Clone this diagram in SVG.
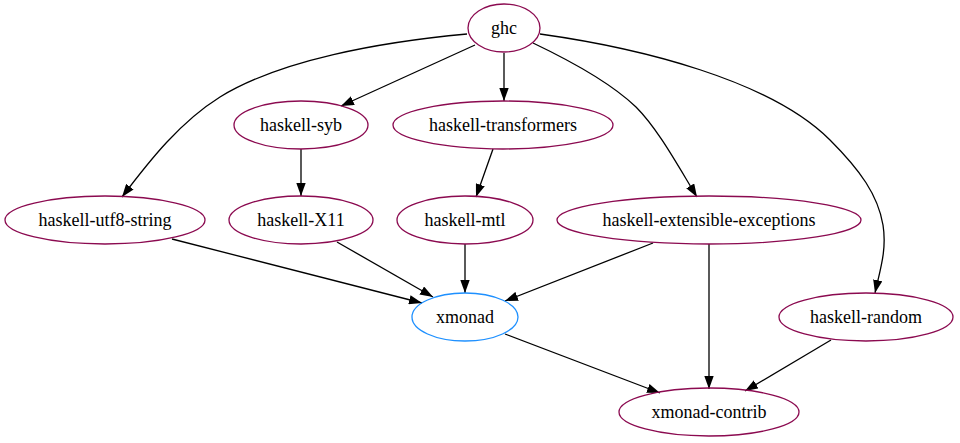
<svg xmlns="http://www.w3.org/2000/svg" width="960" height="443" viewBox="0 0 960 443">
<defs>
<marker id="arr" viewBox="0 0 13 9.4" markerWidth="13" markerHeight="9.4" refX="13" refY="4.7" orient="auto" markerUnits="userSpaceOnUse">
<path d="M0,0 L13,4.7 L0,9.4 z" fill="#000"/>
</marker>
<style>
.n ellipse{fill:none;stroke:#8b0a50;stroke-width:1.3}
.n text{font-family:"Liberation Serif","Times New Roman",serif;font-size:18px;text-anchor:middle;fill:#000}
#xmonad ellipse{stroke:#1e90ff}
.e path{fill:none;stroke:#000;stroke-width:1.3;marker-end:url(#arr)}
</style>
</defs>
<rect width="960" height="443" fill="#fff"/>
<g class="e" id="edges">
<path d="M475,45 L341,106"/>
<path d="M504,53 L504,101"/>
<path d="M467,34 C380,42 280,60 220,97 C180,122 150,160 122,197"/>
<path d="M533,43 C575,63 612,84 636,107 C658,129 678,166 697,197"/>
<path d="M540,34 C640,48 770,80 830,140 C860,170 878,195 883,225 C887,250 880,270 875,293"/>
<path d="M301,149 L301,196"/>
<path d="M493,149 L476,197"/>
<path d="M172,239 L422,303"/>
<path d="M337,242 L433,297"/>
<path d="M465,244 L465,293"/>
<path d="M653,243 L505,301"/>
<path d="M709,244 L709,389"/>
<path d="M505,334 L660,393"/>
<path d="M831,340 L745,391"/>
</g>
<g class="n" id="ghc"><ellipse cx="504" cy="28" rx="36" ry="24"/><text x="504" y="34">ghc</text></g>
<g class="n" id="haskell-syb"><ellipse cx="301" cy="125" rx="67" ry="24"/><text x="301" y="131">haskell-syb</text></g>
<g class="n" id="haskell-transformers"><ellipse cx="503" cy="125" rx="110" ry="24"/><text x="503" y="131">haskell-transformers</text></g>
<g class="n" id="haskell-utf8-string"><ellipse cx="105" cy="220" rx="100" ry="24"/><text x="105" y="226">haskell-utf8-string</text></g>
<g class="n" id="haskell-X11"><ellipse cx="301" cy="220" rx="72" ry="24"/><text x="301" y="226">haskell-X11</text></g>
<g class="n" id="haskell-mtl"><ellipse cx="465" cy="220" rx="68" ry="24"/><text x="465" y="226">haskell-mtl</text></g>
<g class="n" id="haskell-extensible-exceptions"><ellipse cx="709" cy="220" rx="152" ry="24"/><text x="709" y="226">haskell-extensible-exceptions</text></g>
<g class="n" id="xmonad"><ellipse cx="465" cy="317" rx="53" ry="24"/><text x="465" y="323">xmonad</text></g>
<g class="n" id="haskell-random"><ellipse cx="866" cy="317" rx="87" ry="24"/><text x="866" y="323">haskell-random</text></g>
<g class="n" id="xmonad-contrib"><ellipse cx="709" cy="412" rx="90" ry="24"/><text x="709" y="418">xmonad-contrib</text></g>
</svg>
